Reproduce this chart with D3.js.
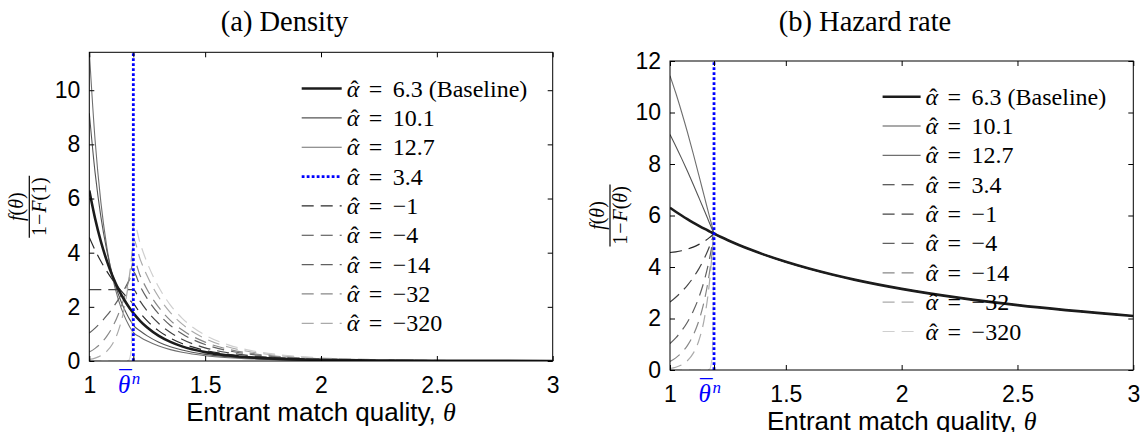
<!DOCTYPE html>
<html>
<head>
<meta charset="utf-8">
<script src="https://cdn.jsdelivr.net/npm/d3@7/dist/d3.min.js"></script>
<style>
body { margin: 0; background: #fff; }
svg { display: block; }
.tick text { font-family: "Liberation Sans", Arial, sans-serif; font-size: 23px; fill: #000; }
.serif { font-family: "Liberation Serif", "Times New Roman", serif; }
</style>
</head>
<body>
<svg id="chart" width="1141" height="432"></svg>
<script>
// theta grid below and above the threshold
var thetaBar = 1.19;
var thetaLow = [1, 1.025, 1.05, 1.075, 1.1, 1.125, 1.15, 1.17, 1.18, 1.185, 1.19];
var thetaHigh = [1.19, 1.22, 1.25, 1.3, 1.35, 1.4, 1.5, 1.6, 1.7, 1.8, 2.0, 2.25, 2.5, 3.0];

var alphaLabels = ['6.3 (Baseline)', '10.1', '12.7', '3.4', '\u22121', '\u22124', '\u221214', '\u221232', '\u2212320'];

// (a) density, theta <= thetaBar
var densLow63 = [6.300, 5.261, 4.412, 3.716, 3.142, 2.666, 2.271, 2.003, 1.882, 1.825, 1.770];
var densLow101 = [9.147, 6.955, 5.322, 4.099, 3.176, 2.474, 1.939, 1.601, 1.457, 1.390, 1.327];
var densLow127 = [11.43, 8.150, 5.858, 4.244, 3.097, 2.277, 1.685, 1.330, 1.184, 1.117, 1.055];
var densLow34 = [4.563, 4.094, 3.681, 3.319, 3.000, 2.718, 2.467, 2.287, 2.203, 2.162, 2.122];
var densLowM1 = [2.639, 2.639, 2.639, 2.639, 2.639, 2.639, 2.639, 2.639, 2.639, 2.639, 2.639];
var densLowM4 = [1.030, 1.215, 1.428, 1.672, 1.951, 2.268, 2.627, 2.949, 3.122, 3.212, 3.300];
var densLowM14 = [0.330, 0.466, 0.653, 0.908, 1.253, 1.717, 2.334, 2.972, 3.348, 3.553, 3.770];
var densLowM32 = [0.058, 0.108, 0.196, 0.354, 0.628, 1.102, 1.909, 2.938, 3.635, 4.040, 4.490];
var densLowM320 = [0, 0, 0, 0, 0, 0, 0, 0.023, 0.351, 1.355, 5.190];

// (a) density, theta >= thetaBar
var densHigh63 = [1.770, 1.476, 1.236, 0.928, 0.705, 0.540, 0.327, 0.204, 0.131, 0.086, 0.040, 0.017, 0.008, 0.002];
var densHigh101 = [1.327, 1.106, 0.927, 0.696, 0.528, 0.405, 0.245, 0.153, 0.098, 0.065, 0.030, 0.013, 0.006, 0.002];
var densHigh127 = [1.055, 0.880, 0.737, 0.553, 0.420, 0.322, 0.195, 0.122, 0.078, 0.051, 0.024, 0.010, 0.005, 0.001];
var densHigh34 = [2.122, 1.769, 1.482, 1.113, 0.845, 0.648, 0.392, 0.244, 0.157, 0.103, 0.048, 0.020, 0.009, 0.003];
var densHighM1 = [2.639, 2.200, 1.843, 1.384, 1.051, 0.806, 0.487, 0.304, 0.195, 0.129, 0.060, 0.025, 0.012, 0.003];
var densHighM4 = [3.300, 2.752, 2.304, 1.731, 1.314, 1.007, 0.609, 0.380, 0.244, 0.161, 0.075, 0.032, 0.015, 0.004];
var densHighM14 = [3.770, 3.143, 2.633, 1.977, 1.501, 1.151, 0.696, 0.434, 0.279, 0.184, 0.085, 0.036, 0.017, 0.005];
var densHighM32 = [4.490, 3.744, 3.135, 2.355, 1.788, 1.371, 0.828, 0.517, 0.332, 0.219, 0.101, 0.043, 0.020, 0.005];
var densHighM320 = [5.190, 4.327, 3.624, 2.722, 2.067, 1.585, 0.958, 0.598, 0.384, 0.253, 0.117, 0.050, 0.023, 0.006];

// (b) hazard rate, theta <= thetaBar
var hazLow63 = [6.300, 6.146, 6.000, 5.860, 5.727, 5.600, 5.478, 5.385, 5.339, 5.316, 5.294];
var hazLow101 = [9.147, 8.693, 8.218, 7.725, 7.213, 6.686, 6.154, 5.720, 5.504, 5.398, 5.294];
var hazLow127 = [11.43, 10.756, 10.02, 9.242, 8.409, 7.547, 6.673, 5.978, 5.638, 5.470, 5.294];
var hazLow34 = [4.563, 4.590, 4.631, 4.692, 4.773, 4.879, 5.010, 5.140, 5.214, 5.254, 5.294];
var hazLowM1 = [2.639, 2.825, 3.040, 3.290, 3.585, 3.938, 4.368, 4.786, 5.027, 5.156, 5.294];
var hazLowM4 = [1.030, 1.250, 1.521, 1.857, 2.282, 2.826, 3.543, 4.301, 4.764, 5.023, 5.294];
var hazLowM14 = [0.330, 0.471, 0.669, 0.949, 1.347, 1.922, 2.769, 3.761, 4.413, 4.793, 5.294];
var hazLowM32 = [0.058, 0.108, 0.197, 0.358, 0.644, 1.155, 2.080, 3.377, 4.342, 4.938, 5.294];
var hazLowM320 = [0, 0, 0, 0, 0, 0, 0, 0.023, 0.352, 1.362, 5.294];

// (b) hazard rate, theta >= thetaBar (same for every alpha)
var hazHigh = [5.294, 5.164, 5.040, 4.846, 4.667, 4.500, 4.200, 3.938, 3.706, 3.500, 3.150, 2.800, 2.520, 2.100];

var densLows = [densLow63, densLow101, densLow127, densLow34, densLowM1, densLowM4, densLowM14, densLowM32, densLowM320];
var densHighs = [densHigh63, densHigh101, densHigh127, densHigh34, densHighM1, densHighM4, densHighM14, densHighM32, densHighM320];
var hazLows = [hazLow63, hazLow101, hazLow127, hazLow34, hazLowM1, hazLowM4, hazLowM14, hazLowM32, hazLowM320];

// line styles, one per alpha
var styles = [
  { color: '#1c1c1c', width: 2.6, dash: null },
  { color: '#555', width: 1.1, dash: null },
  { color: '#6f6f6f', width: 1.1, dash: null },
  { color: '#2a2a2a', width: 1.2, dash: '12,7' },
  { color: '#444', width: 1.2, dash: '12,7' },
  { color: '#606060', width: 1.2, dash: '12,7' },
  { color: '#888', width: 1.2, dash: '12,7' },
  { color: '#aaa', width: 1.2, dash: '12,7' },
  { color: '#cfcfcf', width: 1.2, dash: '12,7' }
];
var blueStyle = { color: '#0000ff', width: 2.8, dash: '2.8,2.2' };
var serifFont = '"Liberation Serif", "Times New Roman", serif';

var svg = d3.select('#chart');

function seriesPoints(low, high) {
  var pts = thetaLow.map(function (t, i) { return [t, low[i]]; });
  return pts.concat(thetaHigh.slice(1).map(function (t, i) { return [t, high[i + 1]]; }));
}

function applyStyle(sel, s) {
  sel.attr('fill', 'none').
  attr('stroke', s.color).
  attr('stroke-width', s.width).
  attr('stroke-dasharray', s.dash);
}

// one text element: italic symbol with an accent tspan pulled back over it
function accentedText(parent, x, y, sym, accent, size, lift, color) {
  var t = parent.append('text').
  attr('x', x).attr('y', y).
  style('font-family', serifFont).
  style('font-size', size + 'px').
  style('fill', color);
  var s = t.append('tspan').style('font-style', 'italic').text(sym);
  var w = s.node().getComputedTextLength();
  var a = t.append('tspan').attr('dy', -lift).text(accent);
  var aw = a.node().getComputedTextLength();
  a.attr('dx', -(w / 2 + aw / 2) + size * 0.06);
  return { text: t, width: w };
}

function drawPanel(p) {
  var x = d3.scaleLinear().domain([1, 3]).range([p.left, p.right]);
  var y = d3.scaleLinear().domain([0, p.yMax]).range([p.bottom, p.top]);
  var g = svg.append('g');

  g.append('clipPath').attr('id', p.id + '-clip').
  append('rect').
  attr('x', p.left).attr('y', p.top).
  attr('width', p.right - p.left).attr('height', p.bottom - p.top);

  var line = d3.line().
  x(function (d) { return x(d[0]); }).
  y(function (d) { return y(d[1]); }).
  curve(d3.curveMonotoneX);

  var plot = g.append('g').attr('clip-path', 'url(#' + p.id + '-clip)');

  // draw order: thin solids, dashed, baseline, threshold line
  [2, 1, 3, 4, 5, 6, 7, 8, 0].forEach(function (i) {
    plot.append('path').
    datum(seriesPoints(p.lows[i], p.highs[i])).
    attr('d', line).
    call(applyStyle, styles[i]);
  });

  plot.append('line').
  attr('x1', x(thetaBar)).attr('x2', x(thetaBar)).
  attr('y1', y(0)).attr('y2', p.top).
  call(applyStyle, blueStyle);

  // axes, ticks pointing inward, box all round
  var xTicks = [1, thetaBar, 1.5, 2, 2.5, 3];
  var yTicks = d3.range(0, p.yMax + 0.01, 2);

  var xb = g.append('g').
  attr('transform', 'translate(0,' + p.bottom + ')').
  call(d3.axisBottom(x).tickValues(xTicks).tickSizeInner(-5).tickSizeOuter(0).tickPadding(16).
  tickFormat(function (d) { return d === thetaBar ? '' : String(d); }));

  g.append('g').
  attr('transform', 'translate(0,' + p.top + ')').
  call(d3.axisTop(x).tickValues(xTicks).tickSizeInner(-5).tickSizeOuter(0).tickFormat(''));

  g.append('g').
  attr('transform', 'translate(' + p.left + ',0)').
  call(d3.axisLeft(y).tickValues(yTicks).tickSizeInner(-5).tickSizeOuter(0).tickPadding(9));

  g.append('g').
  attr('transform', 'translate(' + p.right + ',0)').
  call(d3.axisRight(y).tickValues(yTicks).tickSizeInner(-5).tickSizeOuter(0).tickFormat(''));

  g.selectAll('.domain').remove();
  g.selectAll('.tick line').attr('stroke', '#000');

  g.append('rect').
  attr('x', p.left).attr('y', p.top).
  attr('width', p.right - p.left).attr('height', p.bottom - p.top).
  attr('fill', 'none').attr('stroke', '#000').attr('stroke-width', 1);

  // threshold tick label, theta bar with superscript n, in blue
  var barTick = xb.selectAll('.tick').filter(function (d) { return d === thetaBar; });
  barTick.select('text').remove();
  var tb = accentedText(barTick, -9, 32, '\u03B8', '\u00AF', 25, 5, '#0000ff');
  tb.text.append('tspan').
  attr('x', -9 + tb.width - 1).attr('y', 23).
  style('font-size', '17px').style('font-style', 'italic').
  text('n');

  // x label
  g.append('text').
  attr('x', (p.left + p.right) / 2).
  attr('y', p.xLabelY).
  attr('text-anchor', 'middle').
  style('font-family', '"Liberation Sans", Arial, sans-serif').
  style('font-size', '26px').
  text('Entrant match quality, ').
  append('tspan').
  style('font-family', serifFont).
  style('font-style', 'italic').
  text('\u03B8');

  // title
  g.append('text').
  attr('class', 'serif').
  attr('x', p.titleX).attr('y', 31).
  attr('text-anchor', 'middle').
  style('font-size', '28.5px').
  text(p.title);

  // y label as a stacked fraction
  var yl = g.append('g').
  attr('class', 'serif').
  attr('transform', 'translate(' + p.fracX + ',' + (p.top + p.bottom) / 2 + ') rotate(-90)').
  style('font-size', '20px');
  yl.append('line').attr('x1', -31).attr('x2', 31).attr('y1', 0).attr('y2', 0).
  attr('stroke', '#000').attr('stroke-width', 1.2);
  var num = yl.append('text').attr('y', -6).attr('text-anchor', 'middle');
  num.append('tspan').style('font-style', 'italic').text('f');
  num.append('tspan').text('(');
  num.append('tspan').style('font-style', 'italic').text('\u03B8');
  num.append('tspan').text(')');
  var den = yl.append('text').attr('y', 17).attr('text-anchor', 'middle');
  den.append('tspan').text('1');
  den.append('tspan').attr('dx', 1).text('\u2212');
  den.append('tspan').attr('dx', 1).style('font-style', 'italic').text('F');
  den.append('tspan').text('(');
  if (p.denArg === '1') den.append('tspan').text('1');else
  den.append('tspan').style('font-style', 'italic').text('\u03B8');
  den.append('tspan').text(')');

  // legend, no frame
  var lg = g.append('g');
  alphaLabels.forEach(function (lab, k) {
    var s = p.legendStyles[k];
    var ly = p.legendY + k * 29.35;
    var tx = p.legendX + p.legendLen + 5;
    var base = ly + 8;
    lg.append('line').
    attr('x1', p.legendX).attr('x2', p.legendX + p.legendLen).
    attr('y1', ly).attr('y2', ly).
    call(applyStyle, s === 'blue' ? blueStyle : styles[s]);
    var row = accentedText(lg, tx, base, '\u03B1', '\u02C6', 24, 0, '#000');
    row.text.append('tspan').attr('x', tx + 22).attr('y', base).text('=');
    row.text.append('tspan').attr('x', tx + 46).attr('y', base).text(lab);
  });
}

drawPanel({
  id: 'pa', title: '(a) Density', titleX: 284.5,
  left: 89.3, right: 552.7, top: 52.3, bottom: 361, yMax: 11.4,
  lows: densLows, highs: densHighs,
  xLabelY: 421, fracX: 29.3, denArg: '1',
  legendX: 301.7, legendY: 88.5, legendLen: 40,
  legendStyles: [0, 1, 2, 'blue', 3, 4, 5, 6, 7]
});

drawPanel({
  id: 'pb', title: '(b) Hazard rate', titleX: 865,
  left: 670, right: 1133.3, top: 61, bottom: 370, yMax: 12,
  lows: hazLows, highs: hazLows.map(function () { return hazHigh; }),
  xLabelY: 430, fracX: 610, denArg: 'theta',
  legendX: 882.6, legendY: 96.7, legendLen: 38,
  legendStyles: [0, 1, 2, 3, 4, 5, 6, 7, 8]
});
</script>
</body>
</html>
